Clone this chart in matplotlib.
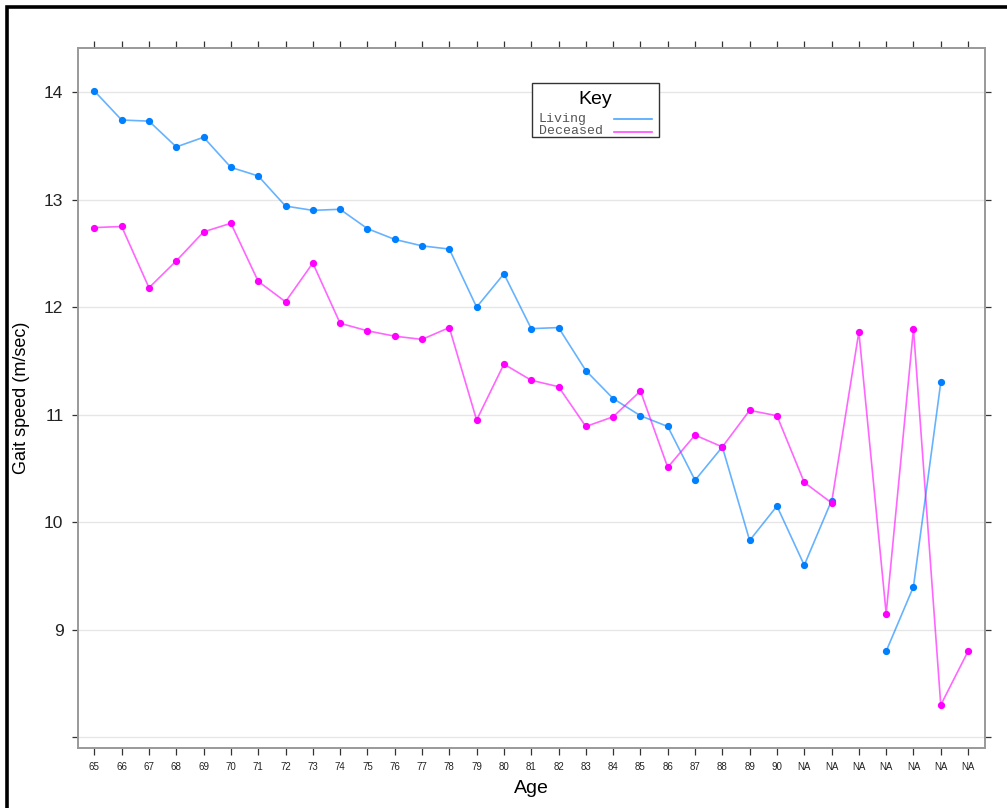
import numpy as np
import matplotlib

matplotlib.use("Agg")
import matplotlib.pyplot as plt
from matplotlib.lines import Line2D
from matplotlib.patches import Rectangle

# age groups along the x axis (unknown ages coded as NA)
ages = [str(a) for a in range(65, 91)] + ["NA"] * 7

living = [14.01, 13.74, 13.73, 13.49, 13.58, 13.30, 13.22, 12.94, 12.90, 12.91,
          12.73, 12.63, 12.57, 12.54, 12.00, 12.31, 11.80, 11.81, 11.41, 11.15,
          10.99, 10.89, 10.39, 10.70, 9.83, 10.15,
          9.60, 10.20, np.nan, 8.80, 9.40, 11.30, np.nan]

deceased = [12.74, 12.75, 12.18, 12.43, 12.70, 12.78, 12.24, 12.05, 12.41, 11.85,
            11.78, 11.73, 11.70, 11.81, 10.95, 11.47, 11.32, 11.26, 10.89, 10.98,
            11.22, 10.51, 10.81, 10.70, 11.04, 10.99,
            10.37, 10.18, 11.77, 9.15, 11.80, 8.30, 8.80]

series_names = ["Living", "Deceased"]
series_colors = ["#0080ff", "#ff00ff"]
y_ticks = [8, 9, 10, 11, 12, 13, 14]

plt.rcParams["font.family"] = ["Liberation Sans", "DejaVu Sans"]

W, H = 1007, 808
fig = plt.figure(figsize=(W / 100, H / 100), dpi=100)


def fx(px):
    return px / W


def fy(py):
    return 1 - py / H


ax = fig.add_axes([fx(78), fy(748), fx(985) - fx(78), fy(48) - fy(748)])

x = np.arange(len(ages))
for vals, col in zip([living, deceased], series_colors):
    ax.plot(x, vals, color=col, lw=1.2, alpha=0.6, zorder=3)
    ax.plot(x, vals, ls="none", marker="o", ms=4.2, mfc=col, mec=col, zorder=4)

ax.set_xlim(-0.6, len(ages) - 1 + 0.62)
ax.set_ylim(7.90, 14.41)

ax.set_xticks(x)
ax.set_xticklabels(ages, fontsize=7, color="#222222")
ax.set_yticks(y_ticks)
ax.set_yticklabels(["" if t == 8 else str(t) for t in y_ticks], fontsize=12.5, color="#222222")
for t in y_ticks:
    ax.axhline(t, color="#e6e6e6", lw=1.0, zorder=1)

ax.tick_params(axis="x", direction="out", length=5, width=0.9, color="#333333",
               pad=5, top=True, labeltop=False)
ax.tick_params(axis="y", direction="out", length=4.5, width=0.9, color="#333333",
               pad=6, right=True, labelright=False)
for sp in ax.spines.values():
    sp.set_color("#999999")
    sp.set_linewidth(1.4)

ax.set_xlabel("Age", fontsize=14, labelpad=6)
ax.set_ylabel("Gait speed (m/sec)", fontsize=13, labelpad=10)

# key box
fig.add_artist(Rectangle((fx(532), fy(137)), fx(659) - fx(532), fy(83) - fy(137),
                         transform=fig.transFigure, fill=True, fc="white",
                         ec="#333333", lw=1.0, zorder=5))
fig.text(fx(595), fy(99), "Key", fontsize=14, ha="center", va="center", zorder=6)
for i, (name, col) in enumerate(zip(series_names, series_colors)):
    yy = 119 + i * 12.5
    fig.text(fx(539), fy(yy), name, fontsize=9.5, family="Liberation Mono",
             color="#555555", ha="left", va="center", zorder=6)
    fig.add_artist(Line2D([fx(614), fx(652)], [fy(yy), fy(yy)], color=col,
                          lw=1.2, alpha=0.7, transform=fig.transFigure, zorder=6))

# outer frame
fig.add_artist(Rectangle((fx(7), -0.2), 1.5, fy(7) + 0.2, transform=fig.transFigure,
                         fill=False, ec="black", lw=2.6))

fig.savefig("out.png", dpi=100)
